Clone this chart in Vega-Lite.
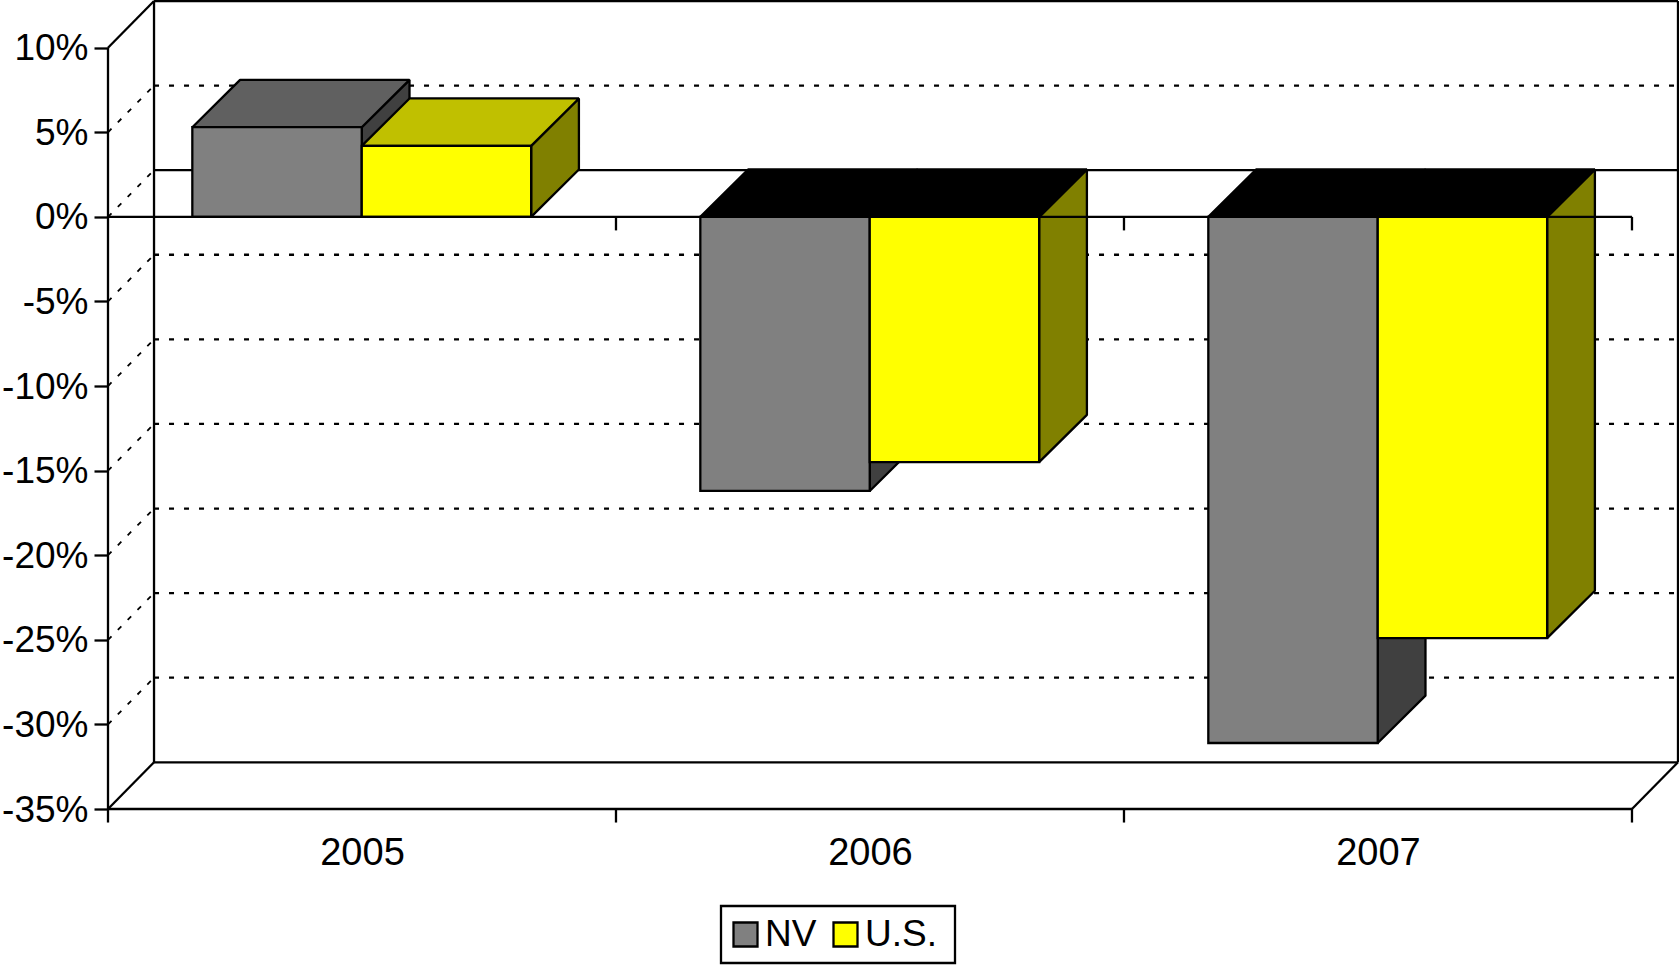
{
"$schema":"https://vega.github.io/schema/vega-lite/v6.json",
"width":1570,"height":808,
"autosize":{"type":"none"},
"padding":{"left":108,"top":1,"right":1,"bottom":157},
"background":"white",
"config":{"view":{"stroke":null},"font":"Liberation Sans"},
"datasets":{
"grid":[{"level":-30},{"level":-25},{"level":-20},{"level":-15},{"level":-10},{"level":-5},{"level":0},{"level":5}],
"ticks":[{"c":0},{"c":1},{"c":2},{"c":3}],
"one":[{"k":1}]
},
"data":{"values":[
{"year":2005,"series":"NV","value":5.3},
{"year":2005,"series":"U.S.","value":4.2},
{"year":2006,"series":"NV","value":-16.2},
{"year":2006,"series":"U.S.","value":-14.5},
{"year":2007,"series":"NV","value":-31.1},
{"year":2007,"series":"U.S.","value":-24.9}
]},
"transform":[
{"calculate":"datum.year-2005+0.166+(datum.series==='NV'?0:0.3335)","as":"xl"},
{"calculate":"datum.xl+0.3335","as":"xr"},
{"calculate":"max(datum.value,0)","as":"yt"},
{"calculate":"min(datum.value,0)","as":"yb"},
{"calculate":"datum.year+datum.series","as":"id"},
{"calculate":"0","as":"near"},
{"calculate":"1","as":"far"},
{"fold":["near","far"],"as":["edge","t"]},
{"calculate":"datum.xl+datum.t*0.094","as":"pxl"},
{"calculate":"datum.xr+datum.t*0.094","as":"pxr"},
{"calculate":"datum.yt+datum.t*2.8","as":"pyt"},
{"calculate":"datum.yb+datum.t*2.8","as":"pyb"}
],
"layer":[
{"data":{"name":"ticks"},"mark":{"type":"rule","stroke":"black","strokeWidth":2.3},
 "encoding":{
  "x":{"field":"c","type":"quantitative","scale":{"domain":[0,3.0906],"nice":false,"zero":false},
   "axis":{"values":[0.5,1.5,2.5],"labelExpr":"datum.value+2004.5","title":null,"grid":false,"domain":false,"ticks":false,"labelFontSize":38,"labelColor":"black","labelFont":"Liberation Sans","labelPadding":25,"labelOverlap":false,"labelFlush":false}},
  "y":{"datum":-35,"type":"quantitative","scale":{"domain":[-35,12.76],"nice":false,"zero":false},
   "axis":{"values":[-35,-30,-25,-20,-15,-10,-5,0,5,10],"labelExpr":"datum.value+'%'","title":null,"grid":false,"domain":false,"tickSize":14,"tickWidth":2.3,"tickColor":"black","labelFontSize":37,"labelColor":"black","labelFont":"Liberation Sans","labelPadding":6,"labelOffset":1,"labelOverlap":false,"labelFlush":false}},
  "y2":{"datum":-35.8}}},
{"data":{"name":"one"},"mark":{"type":"rule","stroke":"black","strokeWidth":2.3},
 "encoding":{"x":{"datum":0,"type":"quantitative"},"y":{"datum":10,"type":"quantitative"},"y2":{"datum":-35}}},
{"data":{"name":"grid"},"transform":[{"calculate":"datum.level+2.76","as":"back"},{"filter":"datum.level!==0"}],
 "mark":{"type":"rule","stroke":"black","strokeWidth":2.3,"strokeDash":[5,10]},
 "encoding":{"x":{"datum":0.0906,"type":"quantitative"},"x2":{"datum":3.0906},"y":{"field":"back","type":"quantitative"}}},
{"data":{"name":"grid"},"transform":[{"calculate":"datum.level+2.76","as":"back"}],
 "mark":{"type":"rule","stroke":"black","strokeWidth":1.8,"strokeDash":[5,9]},
 "encoding":{"x":{"datum":0,"type":"quantitative"},"x2":{"datum":0.0906},"y":{"field":"level","type":"quantitative"},"y2":{"field":"back"}}},
{"data":{"name":"one"},"mark":{"type":"rule","stroke":"black","strokeWidth":2.3},
 "encoding":{"x":{"datum":0.0906,"type":"quantitative"},"y":{"datum":12.76,"type":"quantitative"},"y2":{"datum":-32.24}}},
{"data":{"name":"one"},"mark":{"type":"rule","stroke":"black","strokeWidth":2.3},
 "encoding":{"x":{"datum":3.0906,"type":"quantitative"},"y":{"datum":12.76,"type":"quantitative"},"y2":{"datum":-32.24}}},
{"data":{"name":"one"},"mark":{"type":"rule","stroke":"black","strokeWidth":2.3},
 "encoding":{"x":{"datum":0.0906,"type":"quantitative"},"x2":{"datum":3.0906},"y":{"datum":12.76,"type":"quantitative"}}},
{"data":{"name":"one"},"mark":{"type":"rule","stroke":"black","strokeWidth":2.3},
 "encoding":{"x":{"datum":0.0906,"type":"quantitative"},"x2":{"datum":3.0906},"y":{"datum":2.76,"type":"quantitative"}}},
{"data":{"name":"one"},"mark":{"type":"rule","stroke":"black","strokeWidth":2.3},
 "encoding":{"x":{"datum":0.0906,"type":"quantitative"},"x2":{"datum":3.0906},"y":{"datum":-32.24,"type":"quantitative"}}},
{"data":{"name":"one"},"mark":{"type":"rule","stroke":"black","strokeWidth":2.3},
 "encoding":{"x":{"datum":0,"type":"quantitative"},"x2":{"datum":3},"y":{"datum":-35,"type":"quantitative"}}},
{"data":{"name":"one"},"mark":{"type":"rule","stroke":"black","strokeWidth":2.3},
 "encoding":{"x":{"datum":0,"type":"quantitative"},"x2":{"datum":0.0906},"y":{"datum":10,"type":"quantitative"},"y2":{"datum":12.76}}},
{"data":{"name":"one"},"mark":{"type":"rule","stroke":"black","strokeWidth":2.3},
 "encoding":{"x":{"datum":0,"type":"quantitative"},"x2":{"datum":0.0906},"y":{"datum":-35,"type":"quantitative"},"y2":{"datum":-32.24}}},
{"data":{"name":"one"},"mark":{"type":"rule","stroke":"black","strokeWidth":2.3},
 "encoding":{"x":{"datum":3,"type":"quantitative"},"x2":{"datum":3.0906},"y":{"datum":-35,"type":"quantitative"},"y2":{"datum":-32.24}}},
{"mark":{"type":"area","stroke":"black","strokeWidth":2.3,"strokeJoin":"bevel","opacity":1},
 "encoding":{"x":{"field":"pxr","type":"quantitative"},"y":{"field":"pyt","type":"quantitative"},"y2":{"field":"pyb"},"detail":{"field":"id"},
  "fill":{"condition":{"test":"datum.series==='NV'","value":"#404040"},"value":"#808000"}}},
{"mark":{"type":"area","orient":"horizontal","stroke":"black","strokeWidth":2.3,"strokeJoin":"bevel","opacity":1},
 "encoding":{"y":{"field":"pyt","type":"quantitative"},"x":{"field":"pxl","type":"quantitative"},"x2":{"field":"pxr"},"detail":{"field":"id"},
  "fill":{"condition":[{"test":"datum.value<0","value":"#000000"},{"test":"datum.series==='NV'","value":"#606060"}],"value":"#c0c000"}}},
{"transform":[{"filter":"datum.edge==='near'"}],
 "mark":{"type":"rect","stroke":"black","strokeWidth":2.3},
 "encoding":{"x":{"field":"xl","type":"quantitative"},"x2":{"field":"xr"},"y":{"field":"yt","type":"quantitative"},"y2":{"field":"yb"},
  "fill":{"field":"series","type":"nominal","scale":{"domain":["NV","U.S."],"range":["#808080","#ffff00"]},
   "legend":{"title":"\u00a0","titleOrient":"right","titleFontSize":36,"titlePadding":11.6,"orient":"none","legendX":613,"legendY":905,"direction":"horizontal","columns":2,"symbolType":"square","symbolSize":576,"symbolStrokeColor":"black","symbolStrokeWidth":2.3,"labelFontSize":37,"labelColor":"black","labelFont":"Liberation Sans","labelOffset":1,"columnPadding":10,"padding":6,"clipHeight":45,"strokeColor":"black","fillColor":"white","labelLimit":300,"encode":{"legend":{"update":{"strokeWidth":{"value":2.3}}}}}}}},
{"data":{"name":"one"},"mark":{"type":"rule","stroke":"black","strokeWidth":2.3},
 "encoding":{"x":{"datum":0,"type":"quantitative"},"x2":{"datum":3},"y":{"datum":0,"type":"quantitative"}}},
{"data":{"name":"ticks"},"transform":[{"filter":"datum.c>0"}],"mark":{"type":"rule","stroke":"black","strokeWidth":2.3},
 "encoding":{"x":{"field":"c","type":"quantitative"},"y":{"datum":0,"type":"quantitative"},"y2":{"datum":-0.8}}}
]
}
